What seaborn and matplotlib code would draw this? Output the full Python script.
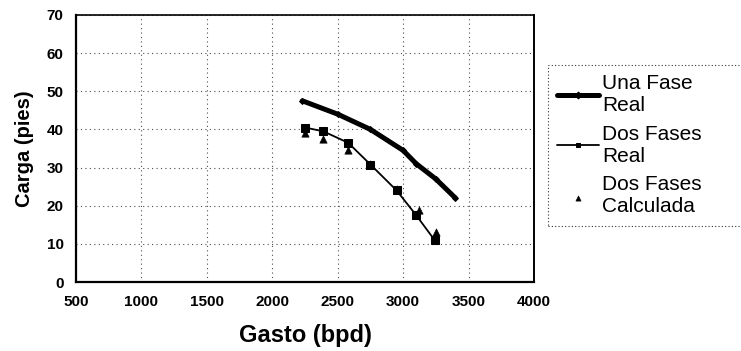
import matplotlib
matplotlib.use("Agg")
import matplotlib.pyplot as plt
import seaborn as sns
import pandas as pd

# Pump head vs. flow rate: single-phase measured, two-phase measured and calculated
una_fase_gasto = [2230, 2500, 2750, 3000, 3100, 3250, 3400]
una_fase_carga = [47.5, 44.0, 40.0, 34.5, 31.0, 27.0, 22.0]

dos_fases_real_gasto = [2250, 2390, 2580, 2750, 2950, 3100, 3240]
dos_fases_real_carga = [40.5, 39.5, 36.5, 30.8, 24.0, 17.5, 11.0]

dos_fases_calc_gasto = [2250, 2390, 2580, 2750, 2950, 3120, 3250]
dos_fases_calc_carga = [39.0, 37.5, 34.5, 31.0, 24.5, 19.0, 13.0]

x_ticks = [500, 1000, 1500, 2000, 2500, 3000, 3500, 4000]
y_ticks = [0, 10, 20, 30, 40, 50, 60, 70]

sns.set_style("white")
plt.rcParams["font.family"] = ["Liberation Sans", "DejaVu Sans"]
plt.rcParams["text.color"] = "black"
plt.rcParams["axes.labelcolor"] = "black"
plt.rcParams["xtick.color"] = "black"
plt.rcParams["ytick.color"] = "black"

fig = plt.figure(figsize=(7.41, 3.51), dpi=100)
ax = fig.add_axes([76 / 741, 1 - 282 / 351, (534 - 76) / 741, (282 - 15) / 351])

df1 = pd.DataFrame({"x": una_fase_gasto, "y": una_fase_carga})
df2 = pd.DataFrame({"x": dos_fases_real_gasto, "y": dos_fases_real_carga})
df3 = pd.DataFrame({"x": dos_fases_calc_gasto, "y": dos_fases_calc_carga})

sns.lineplot(data=df1, x="x", y="y", ax=ax, color="black", linewidth=3.6,
             marker="D", markersize=3, markeredgecolor="black",
             label="Una Fase\nReal", sort=False)
sns.lineplot(data=df2, x="x", y="y", ax=ax, color="black", linewidth=1.3,
             marker="s", markersize=6, markeredgecolor="black",
             label="Dos Fases\nReal", sort=False)
sns.scatterplot(data=df3, x="x", y="y", ax=ax, color="black", marker="^",
                s=28, edgecolor="black", label="Dos Fases\nCalculada")

ax.set_xlim(500, 4000)
ax.set_ylim(0, 70)
ax.set_xticks(x_ticks)
ax.set_yticks(y_ticks)
ax.set_xticklabels([str(v) for v in x_ticks], fontweight="bold", fontsize=11)
ax.set_yticklabels([str(v) for v in y_ticks], fontweight="bold", fontsize=11)
ax.tick_params(axis="x", length=0, pad=9)
ax.tick_params(axis="y", length=0, pad=9)

ax.grid(True, color="0.3", linestyle=(0, (1, 3)), linewidth=0.8)
for side, lw in [("left", 1.6), ("bottom", 1.6), ("top", 1.2), ("right", 1.4)]:
    ax.spines[side].set_visible(True)
    ax.spines[side].set_color("black")
    ax.spines[side].set_linewidth(lw)

ax.set_xlabel("Gasto (bpd)", fontweight="bold", fontsize=17, labelpad=11)
ax.set_ylabel("Carga (pies)", fontweight="bold", fontsize=14.5, labelpad=9)

# legend box runs off the right edge of the figure
x0 = 548 / 741
y_top = 1 - 65 / 351
leg = ax.legend(loc="upper left", bbox_to_anchor=(x0, y_top - 0.6, 1.05 - x0, 0.6),
                bbox_transform=fig.transFigure, mode="expand", frameon=True,
                fancybox=False, fontsize=15, handlelength=2.0, handletextpad=0.15,
                labelspacing=0.45, borderpad=0.45, borderaxespad=0)
frame = leg.get_frame()
frame.set_edgecolor("black")
frame.set_linestyle((0, (1, 2)))
frame.set_linewidth(0.8)
for h in leg.legend_handles:
    if hasattr(h, "set_markersize"):
        h.set_markersize(3.5)
    else:
        h.set_sizes([14])

fig.savefig("out.png", dpi=100)
